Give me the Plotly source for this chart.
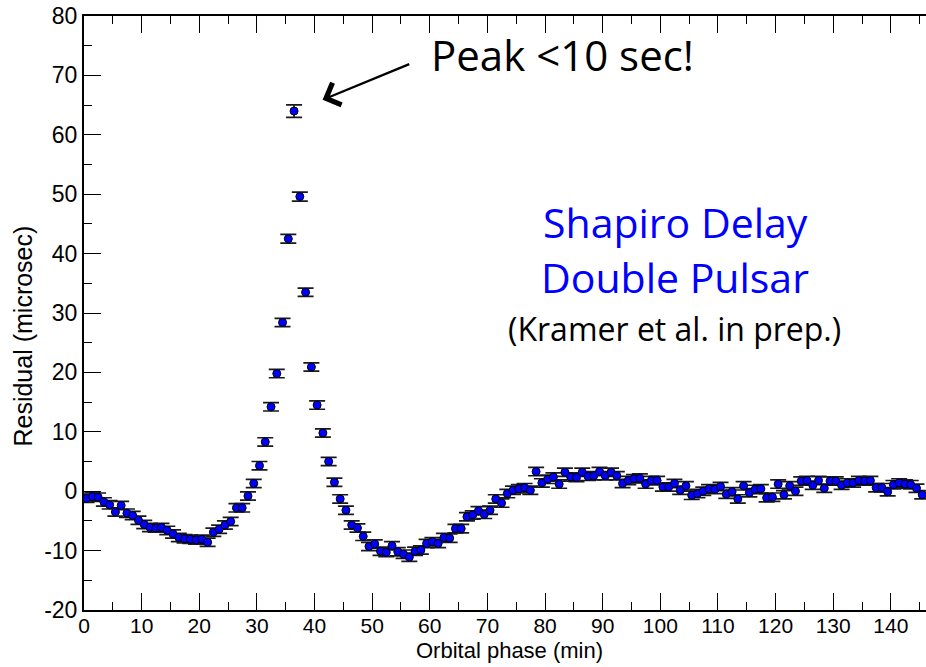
import plotly.graph_objects as go

# Orbital phase (min) of each timing residual
phase = [
    0.45, 1.45, 2.45, 3.45, 4.45, 5.45, 6.45, 7.45, 8.45, 9.45,
    10.45, 11.45, 12.45, 13.45, 14.45, 15.45, 16.45, 17.45, 18.45, 19.45,
    20.45, 21.45, 22.45, 23.45, 24.45, 25.45, 26.45, 27.45, 28.45, 29.45,
    30.45, 31.45, 32.45, 33.45, 34.45, 35.45, 36.45, 37.45, 38.45, 39.45,
    40.45, 41.45, 42.45, 43.45, 44.45, 45.45, 46.45, 47.45, 48.45, 49.45,
    50.45, 51.45, 52.45, 53.45, 54.45, 55.45, 56.45, 57.45, 58.45, 59.45,
    60.45, 61.45, 62.45, 63.45, 64.45, 65.45, 66.45, 67.45, 68.45, 69.45,
    70.45, 71.45, 72.45, 73.45, 74.45, 75.45, 76.45, 77.45, 78.45, 79.45,
    80.45, 81.45, 82.45, 83.45, 84.45, 85.45, 86.45, 87.45, 88.45, 89.45,
    90.45, 91.45, 92.45, 93.45, 94.45, 95.45, 96.45, 97.45, 98.45, 99.45,
    100.45, 101.45, 102.45, 103.45, 104.45, 105.45, 106.45, 107.45, 108.45, 109.45,
    110.45, 111.45, 112.45, 113.45, 114.45, 115.45, 116.45, 117.45, 118.45, 119.45,
    120.45, 121.45, 122.45, 123.45, 124.45, 125.45, 126.45, 127.45, 128.45, 129.45,
    130.45, 131.45, 132.45, 133.45, 134.45, 135.45, 136.45, 137.45, 138.45, 139.45,
    140.45, 141.45, 142.45, 143.45, 144.45, 145.45,
]

# Timing residual (microsec)
residual = [
    -1.2, -0.9, -1.0, -1.8, -2.3, -3.5, -2.4, -3.7, -4.1, -4.9,
    -5.6, -6.1, -6.2, -6.1, -6.6, -7.2, -7.8, -8.0, -8.1, -8.2,
    -8.1, -8.6, -6.9, -6.4, -5.7, -5.1, -2.8, -2.8, -0.8, 1.3,
    4.3, 8.3, 14.2, 19.8, 28.4, 42.5, 64.0, 49.6, 33.5, 20.9,
    14.5, 9.8, 5.0, 1.5, -1.3, -3.2, -5.7, -6.2, -7.6, -9.3,
    -8.9, -10.1, -10.3, -9.2, -10.2, -10.6, -11.1, -10.1, -9.9, -8.8,
    -8.5, -8.8, -7.8, -7.9, -6.3, -6.3, -4.3, -4.0, -3.3, -3.9,
    -3.2, -1.3, -2.0, -0.4, 0.15, 0.4, 0.6, 0.15, 3.3, 1.4,
    2.0, 2.4, 1.2, 3.2, 2.4, 2.3, 3.2, 2.5, 2.6, 3.3,
    2.6, 3.2, 2.6, 1.3, 1.8, 2.1, 2.2, 1.2, 1.8, 1.8,
    0.7, 0.7, 1.3, 0.15, 0.9, -0.7, -0.4, 0.0, 0.4, 0.3,
    0.8, -0.5, -0.1, -1.3, 0.9, -0.25, 0.3, 0.4, -1.1, -1.0,
    1.2, -0.6, 0.9, 0.0, 1.7, 1.8, 1.0, 1.8, 0.5, 1.7,
    1.7, 1.0, 1.4, 1.4, 1.8, 1.7, 1.8, 0.6, 0.6, -0.1,
    1.1, 1.4, 1.2, 1.1, 0.5, -0.6,
]

# 1-sigma uncertainty of each residual (microsec)
sigma = [
    0.7, 0.7, 0.7, 0.7, 0.7, 0.7, 0.7, 0.7, 0.7, 0.7,
    0.7, 0.7, 0.7, 0.7, 0.7, 0.7, 0.7, 0.7, 0.7, 0.7,
    0.7, 0.7, 0.7, 0.7, 0.7, 0.7, 0.7, 0.7, 0.7, 0.7,
    0.7, 0.7, 0.7, 0.7, 0.7, 0.75, 1.05, 0.75, 0.7, 0.7,
    0.7, 0.7, 0.7, 0.7, 0.7, 0.7, 0.7, 0.7, 0.7, 0.7,
    0.7, 0.7, 0.7, 0.7, 0.7, 0.7, 0.7, 0.7, 0.7, 0.7,
    0.7, 0.7, 0.7, 0.7, 0.7, 0.7, 0.7, 0.7, 0.7, 0.7,
    0.7, 0.7, 0.7, 0.7, 0.7, 0.7, 0.7, 0.7, 0.7, 0.7,
    0.7, 0.7, 0.7, 0.7, 0.7, 0.7, 0.7, 0.7, 0.7, 0.7,
    0.7, 0.7, 0.7, 0.7, 0.7, 0.7, 0.7, 0.7, 0.7, 0.7,
    0.7, 0.7, 0.7, 0.7, 0.7, 0.7, 0.7, 0.7, 0.7, 0.7,
    0.7, 0.7, 0.7, 0.7, 0.7, 0.7, 0.7, 0.7, 0.7, 0.7,
    0.7, 0.7, 0.7, 0.7, 0.7, 0.7, 0.7, 0.7, 0.7, 0.7,
    0.7, 0.7, 0.7, 0.7, 0.7, 0.7, 0.7, 0.7, 0.7, 0.7,
    0.7, 0.7, 0.7, 0.7, 0.7, 0.7,
]

x_range = [0, 146.1]
y_range = [-20, 80]
x_ticks = [0, 10, 20, 30, 40, 50, 60, 70, 80, 90, 100, 110, 120, 130, 140]
y_ticks = [-20, -10, 0, 10, 20, 30, 40, 50, 60, 70, 80]

AXIS_FONT = "Liberation Sans, Arial, Helvetica, sans-serif"
NOTE_FONT = "Open Sans, Carlito, Calibri, sans-serif"

fig = go.Figure()
fig.add_trace(go.Scatter(
    x=phase,
    y=residual,
    mode="markers",
    marker=dict(color="#0000ff", size=8, line=dict(color="#000000", width=1)),
    error_y=dict(type="data", array=sigma, visible=True,
                 color="#1a1a1a", thickness=1.7, width=8),
    showlegend=False,
))

tick_common = dict(
    ticks="inside", ticklen=17, tickwidth=1.3, tickcolor="#000000",
    minor=dict(ticks="inside", ticklen=8, tickwidth=1.3, tickcolor="#000000", dtick=5),
    showgrid=False, zeroline=False,
)

fig.update_layout(
    width=926, height=667,
    margin=dict(l=84, r=0, t=16, b=57),
    paper_bgcolor="white", plot_bgcolor="white",
    xaxis=dict(
        range=x_range, tickvals=x_ticks, ticktext=[str(v) for v in x_ticks],
        showline=True, linecolor="#000000", linewidth=2, mirror="ticks",
        tickfont=dict(family=AXIS_FONT, size=21, color="#000000"),
        ticklabelstandoff=-4,
        **tick_common,
    ),
    yaxis=dict(
        range=y_range, tickvals=y_ticks, ticktext=[str(v) for v in y_ticks],
        showline=True, linecolor="#000000", linewidth=2,
        tickfont=dict(family=AXIS_FONT, size=23, color="#000000"),
        **tick_common,
    ),
    yaxis2=dict(
        range=y_range, tickvals=y_ticks, overlaying="y", side="right", anchor="x",
        showline=False, showticklabels=False,
        **tick_common,
    ),
)

annotations = [
    # axis titles
    dict(text="Orbital phase (min)", xref="paper", yref="paper", x=0.505, y=-0.069,
         xanchor="center", yanchor="middle", showarrow=False,
         font=dict(family=AXIS_FONT, size=22, color="#000000")),
    dict(text="Residual (microsec)", xref="paper", yref="paper", x=-0.072, y=0.461,
         xanchor="center", yanchor="middle", textangle=-90, showarrow=False,
         font=dict(family=AXIS_FONT, size=25, color="#000000")),
    # call-out for the peak
    dict(text="Peak &lt;10 sec!", xref="x", yref="y", x=83.1, y=73.6,
         xanchor="center", yanchor="middle", showarrow=False,
         font=dict(family=NOTE_FONT, size=42, color="#000000")),
    dict(text="", xref="x", yref="y", x=41.4, y=65.9,
         axref="x", ayref="y", ax=56.7, ay=72.0,
         showarrow=True, arrowhead=4, arrowsize=2.0, arrowwidth=2.3,
         arrowcolor="#000000", standoff=0),
    # labels
    dict(text="Shapiro Delay", xref="paper", yref="paper", x=(675 - 84) / 842, y=(610 - 222) / 594,
         xanchor="center", yanchor="middle", showarrow=False,
         font=dict(family=NOTE_FONT, size=41, color="#0000ff")),
    dict(text="Double Pulsar", xref="paper", yref="paper", x=(675 - 84) / 842, y=(610 - 277) / 594,
         xanchor="center", yanchor="middle", showarrow=False,
         font=dict(family=NOTE_FONT, size=41, color="#0000ff")),
    dict(text="(Kramer et al. in prep.)", xref="paper", yref="paper", x=(674 - 84) / 842, y=(610 - 328) / 594,
         xanchor="center", yanchor="middle", showarrow=False,
         font=dict(family=NOTE_FONT, size=32, color="#000000")),
]
fig.update_layout(annotations=annotations)

fig.write_html("out.html")
